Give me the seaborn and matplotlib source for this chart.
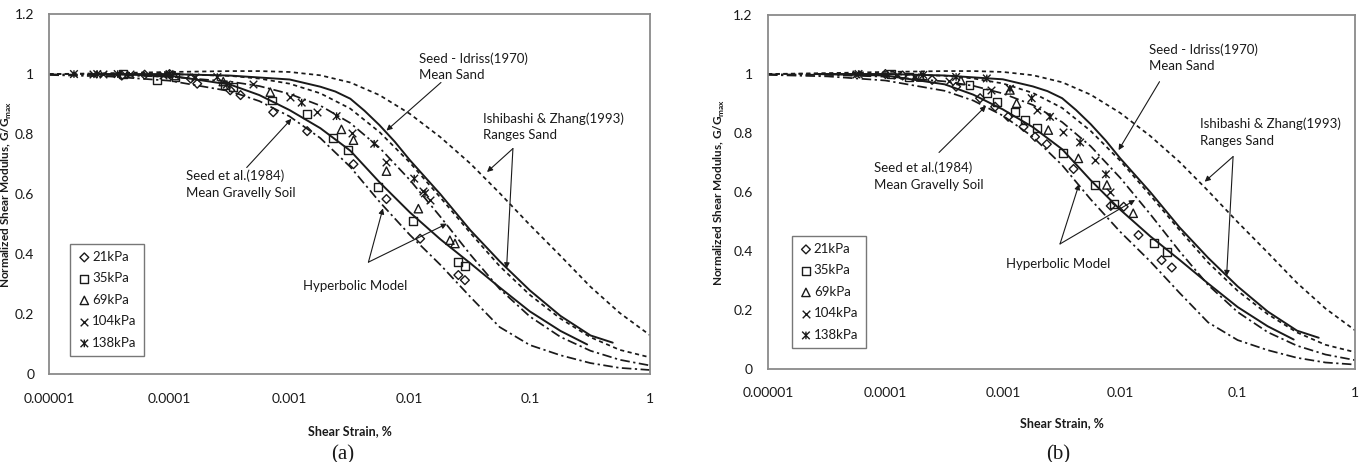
import numpy as np
import matplotlib
matplotlib.use("Agg")
import matplotlib.pyplot as plt
from matplotlib.path import Path
import seaborn as sns

# ---- reference curves (shear strain in %, G/Gmax), shared by both panels ----
grid_strain = [1e-5, 3.2e-5, 1e-4, 3.2e-4, 5.6e-4, 1e-3, 1.8e-3, 3.2e-3, 5.6e-3,
               0.01, 0.018, 0.032, 0.056, 0.1, 0.18, 0.32, 0.56, 1.0]
iz_138 = [1.00, 1.003, 1.007, 1.010, 1.010, 1.007, 0.996, 0.972, 0.930,
          0.868, 0.790, 0.702, 0.604, 0.498, 0.395, 0.292, 0.205, 0.131]
iz_21 = [1.00, 1.001, 1.000, 0.994, 0.985, 0.968, 0.936, 0.885, 0.807,
         0.706, 0.589, 0.471, 0.361, 0.265, 0.186, 0.124, 0.082, 0.057]
hyp_upper = [0.999, 0.997, 0.991, 0.975, 0.960, 0.934, 0.895, 0.837, 0.755,
             0.648, 0.525, 0.399, 0.285, 0.193, 0.125, 0.079, 0.049, 0.030]
hyp_lower = [0.997, 0.992, 0.978, 0.943, 0.910, 0.859, 0.787, 0.691, 0.575,
             0.465, 0.365, 0.258, 0.158, 0.098, 0.064, 0.038, 0.022, 0.015]

si_strain = [2.5e-5, 1e-4, 3.2e-4, 1e-3, 1.8e-3, 2.4e-3, 3.2e-3, 4.2e-3, 5.6e-3,
             7.5e-3, 0.01, 0.018, 0.032, 0.056, 0.1, 0.18, 0.32, 0.49]
si_sand = [1.0, 1.0, 0.995, 0.982, 0.958, 0.942, 0.918, 0.878, 0.83,
           0.775, 0.714, 0.60, 0.48, 0.377, 0.28, 0.195, 0.13, 0.106]

gr_strain = [2.5e-5, 1e-4, 3.2e-4, 5.6e-4, 1e-3, 1.8e-3, 3.2e-3, 5.6e-3, 0.01,
             0.018, 0.032, 0.056, 0.1, 0.18, 0.30]
gr_soil = [1.0, 0.995, 0.965, 0.93, 0.88, 0.82, 0.745, 0.64, 0.54,
           0.45, 0.37, 0.29, 0.21, 0.145, 0.10]

# ---- test data, panel (a) ----
a21_x = [4.0e-5, 6.2e-5, 1.0e-4, 1.5e-4, 1.7e-4, 3.2e-4, 3.9e-4, 7.3e-4, 1.4e-3,
         3.4e-3, 6.4e-3, 0.0122, 0.0254, 0.0288]
a21_y = [0.995, 0.998, 1.0, 0.985, 0.968, 0.946, 0.93, 0.873, 0.81,
         0.70, 0.584, 0.452, 0.331, 0.314]
a35_x = [4.1e-5, 7.8e-5, 1.12e-4, 2.9e-4, 3.4e-4, 7.1e-4, 1.39e-3, 2.3e-3, 3.08e-3,
         5.47e-3, 0.0107, 0.0254, 0.0288]
a35_y = [1.0, 0.981, 0.99, 0.962, 0.956, 0.912, 0.868, 0.786, 0.746,
         0.623, 0.51, 0.375, 0.362]
a69_x = [1.1e-4, 2.8e-4, 6.9e-4, 2.7e-3, 3.4e-3, 6.4e-3, 0.0118, 0.0216, 0.0238]
a69_y = [0.995, 0.975, 0.94, 0.816, 0.78, 0.677, 0.552, 0.447, 0.436]
a104_x = [2.3e-5, 2.8e-5, 4.7e-5, 8.9e-5, 1.62e-4, 5.0e-4, 1.0e-3, 1.68e-3, 3.28e-3,
          6.4e-3, 0.0129, 0.0147]
a104_y = [1.0, 1.0, 1.0, 0.998, 0.99, 0.967, 0.923, 0.873, 0.804,
          0.707, 0.61, 0.58]
a138_x = [1.6e-5, 2.5e-5, 3.7e-5, 1.0e-4, 2.5e-4, 3.0e-4, 1.26e-3, 2.46e-3, 5.06e-3,
          0.0109, 0.0134]
a138_y = [1.0, 1.0, 1.0, 1.0, 0.99, 0.965, 0.905, 0.86, 0.768, 0.652, 0.603]

# ---- test data, panel (b) ----
b21_x = [1.0e-4, 1.4e-4, 2.5e-4, 4.0e-4, 6.4e-4, 8.6e-4, 1.11e-3, 1.5e-3, 1.88e-3,
         2.37e-3, 4.0e-3, 8.3e-3, 0.0107, 0.0143, 0.0225, 0.0275]
b21_y = [1.0, 0.995, 0.98, 0.957, 0.918, 0.889, 0.855, 0.821, 0.787,
         0.762, 0.678, 0.553, 0.55, 0.454, 0.369, 0.344]
b35_x = [1.12e-4, 1.6e-4, 5.2e-4, 7.3e-4, 8.9e-4, 1.27e-3, 1.55e-3, 1.95e-3, 3.27e-3,
         6.1e-3, 8.8e-3, 0.0195, 0.0249]
b35_y = [1.0, 0.99, 0.963, 0.935, 0.906, 0.872, 0.844, 0.816, 0.731,
         0.624, 0.56, 0.428, 0.398]
b69_x = [2.0e-4, 4.4e-4, 1.15e-3, 1.31e-3, 2.44e-3, 4.4e-3, 7.7e-3, 0.0129]
b69_y = [0.99, 0.978, 0.946, 0.901, 0.81, 0.714, 0.624, 0.528]
b104_x = [5.6e-5, 1.26e-4, 1.78e-4, 3.5e-4, 7.9e-4, 1.95e-3, 3.27e-3, 6.1e-3, 8.2e-3]
b104_y = [1.0, 0.998, 0.99, 0.975, 0.945, 0.878, 0.802, 0.708, 0.601]
b138_x = [5.9e-5, 2.1e-4, 4.0e-4, 7.3e-4, 1.15e-3, 1.76e-3, 2.52e-3, 4.55e-3, 7.55e-3]
b138_y = [1.0, 0.997, 0.99, 0.985, 0.95, 0.918, 0.855, 0.768, 0.66]

pressure_labels = ["21kPa", "35kPa", "69kPa", "104kPa", "138kPa"]
x_ticks = [1e-5, 1e-4, 1e-3, 1e-2, 1e-1, 1]
x_ticklabels = ["0.00001", "0.0001", "0.001", "0.01", "0.1", "1"]
y_ticks = [0, 0.2, 0.4, 0.6, 0.8, 1.0, 1.2]
y_ticklabels = ["0", "0.2", "0.4", "0.6", "0.8", "1", "1.2"]

sns.set_style("white")
plt.rcParams["font.family"] = ["Lato", "DejaVu Sans"]
plt.rcParams["mathtext.fontset"] = "custom"
plt.rcParams["mathtext.rm"] = "Lato"
plt.rcParams["mathtext.bf"] = "Lato:bold"

INK = "#1a1a1a"
GRAY = "#8a8a8a"

# star marker like the spreadsheet one: an x with a vertical bar
star = Path([(-1, -1), (1, 1), (-1, 1), (1, -1), (0, -1), (0, 1)],
            [Path.MOVETO, Path.LINETO, Path.MOVETO, Path.LINETO, Path.MOVETO, Path.LINETO])

fig = plt.figure(figsize=(13.7, 4.62), dpi=100)
ax1 = fig.add_axes([0.0361, 0.1894, 0.4383, 0.7803])
ax2 = fig.add_axes([0.5606, 0.2013, 0.4285, 0.7662])


def draw_curves(ax):
    dash = (0, (2.4, 2.0))
    dashdot = (0, (5.5, 2, 1.3, 2))
    for ys in (iz_138, iz_21):
        sns.lineplot(x=grid_strain, y=ys, ax=ax, color=INK, lw=1.25, linestyle=dash,
                     estimator=None, sort=False)
    for ys in (hyp_upper, hyp_lower):
        sns.lineplot(x=grid_strain, y=ys, ax=ax, color=INK, lw=1.25, linestyle=dashdot,
                     estimator=None, sort=False)
    sns.lineplot(x=si_strain, y=si_sand, ax=ax, color=INK, lw=1.4,
                 estimator=None, sort=False)
    sns.lineplot(x=gr_strain, y=gr_soil, ax=ax, color=INK, lw=1.4,
                 estimator=None, sort=False)


def draw_points(ax, series):
    styles = [("D", 20, True), ("s", 32, True), ("^", 36, True), ("x", 30, False), (star, 30, True)]
    for (xs, ys), lab, (mk, sz, hollow) in zip(series, pressure_labels, styles):
        if hollow:
            sns.scatterplot(x=xs, y=ys, ax=ax, marker=mk, s=sz, facecolor="none",
                            edgecolor=INK, linewidth=1.0, label=lab, zorder=5)
        else:
            sns.scatterplot(x=xs, y=ys, ax=ax, marker=mk, s=sz, color=INK,
                            linewidth=1.0, label=lab, zorder=5)


def style_axes(ax, legend_anchor, ylab_x, xlab_y):
    ax.set_xscale("log")
    ax.set_xlim(1e-5, 1)
    ax.set_ylim(0, 1.2)
    ax.set_xticks(x_ticks)
    ax.set_xticklabels(x_ticklabels)
    ax.set_yticks(y_ticks)
    ax.set_yticklabels(y_ticklabels)
    ax.tick_params(axis="x", which="both", direction="in", length=4, width=0.8,
                   color=GRAY, labelsize=10, labelcolor=INK, pad=13)
    ax.tick_params(axis="x", which="minor", length=3)
    ax.tick_params(axis="y", direction="out", length=3, width=0.8, color=GRAY,
                   labelsize=10, labelcolor=INK, pad=8)
    for sp in ax.spines.values():
        sp.set_color(GRAY)
        sp.set_linewidth(1.3)
    ax.set_ylabel(r"Normalized Shear Modulus, G/G$_{\mathbf{max}}$", fontsize=8.5,
                  fontweight="bold", color=INK)
    ax.yaxis.set_label_coords(ylab_x, 0.5)
    ax.set_xlabel("Shear Strain, %", fontsize=9, fontweight="bold", color=INK)
    ax.xaxis.set_label_coords(0.5, xlab_y)
    leg = ax.legend(loc="lower left", bbox_to_anchor=legend_anchor, borderaxespad=0,
                    fontsize=9.5, frameon=True, fancybox=False, edgecolor="#555555",
                    handletextpad=0.1, labelspacing=0.72, borderpad=0.55,
                    handlelength=1.0, scatterpoints=1)
    leg.get_frame().set_linewidth(1.0)
    for t in leg.get_texts():
        t.set_color(INK)


def annotate(ax, text, text_xy, start, tips):
    ax.text(text_xy[0], text_xy[1], text, fontsize=9.5, color=INK, ha="left",
            va="center", linespacing=1.45)
    for tip in tips:
        ax.annotate("", xy=tip, xytext=start,
                    arrowprops=dict(arrowstyle="-|>", color=INK, lw=0.8,
                                    mutation_scale=8, shrinkA=0, shrinkB=0))


# panel (a)
draw_curves(ax1)
draw_points(ax1, [(a21_x, a21_y), (a35_x, a35_y), (a69_x, a69_y),
                  (a104_x, a104_y), (a138_x, a138_y)])
style_axes(ax1, (0.035, 0.051), -0.059, -0.14)
annotate(ax1, "Seed - Idriss(1970)\nMean Sand", (0.0119, 1.025),
         (0.0182, 0.972), [(0.0064, 0.812)])
annotate(ax1, "Ishibashi & Zhang(1993)\nRanges Sand", (0.0404, 0.824),
         (0.0723, 0.752), [(0.0440, 0.674), (0.0640, 0.353)])
annotate(ax1, "Seed et al.(1984)\nMean Gravelly Soil", (1.36e-4, 0.633),
         (4.39e-4, 0.689), [(1.035e-3, 0.851)])
annotate(ax1, "Hyperbolic Model", (1.30e-3, 0.294),
         (4.53e-3, 0.374), [(5.98e-3, 0.553), (0.0204, 0.502)])

# panel (b)
draw_curves(ax2)
draw_points(ax2, [(b21_x, b21_y), (b35_x, b35_y), (b69_x, b69_y),
                  (b104_x, b104_y), (b138_x, b138_y)])
style_axes(ax2, (0.041, 0.059), -0.070, -0.136)
annotate(ax2, "Seed - Idriss(1970)\nMean Sand", (0.01758, 1.056),
         (0.0216, 0.974), [(9.68e-3, 0.742)])
annotate(ax2, "Ishibashi & Zhang(1993)\nRanges Sand", (0.0479, 0.803),
         (0.0914, 0.720), [(0.0524, 0.635), (0.0805, 0.315)])
annotate(ax2, "Seed et al.(1984)\nMean Gravelly Soil", (7.93e-5, 0.654),
         (2.86e-4, 0.734), [(7.19e-4, 0.892)])
annotate(ax2, "Hyperbolic Model", (1.064e-3, 0.356),
         (3.07e-3, 0.424), [(4.46e-3, 0.627), (0.01337, 0.573)])

fig.text(0.2504, 0.015, "(a)", fontsize=15, family=["Liberation Serif", "DejaVu Serif"],
         ha="center", va="center", color=INK)
fig.text(0.7723, 0.015, "(b)", fontsize=15, family=["Liberation Serif", "DejaVu Serif"],
         ha="center", va="center", color=INK)

fig.savefig("out.png", dpi=100)
